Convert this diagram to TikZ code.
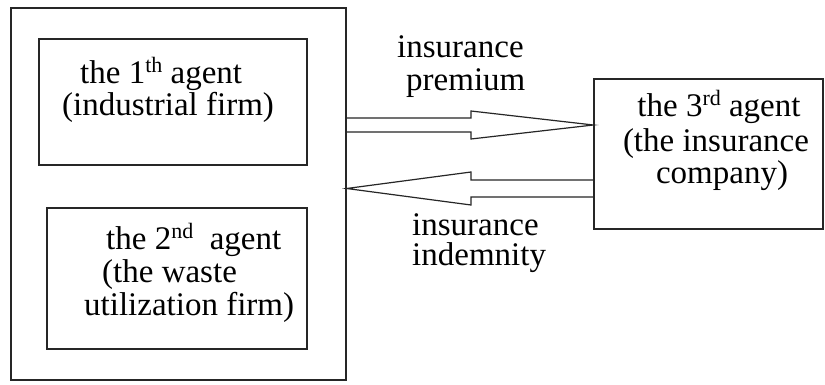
\documentclass[tikz,border=0pt]{standalone}
\usepackage{fontspec}
\setmainfont{Liberation Serif}
\usetikzlibrary{calc}
\newcommand\supx[1]{\raisebox{11pt}{\fontsize{22}{22}\selectfont #1}}
\begin{document}
\begin{tikzpicture}[x=1pt,y=-1pt,
  box/.style={draw=black!85, line width=1.3pt, inner sep=0pt},
  txt/.style={font=\fontsize{33}{36}\selectfont, inner sep=0pt, anchor=base west, text=black},
  ctxt/.style={txt, anchor=base},
  flow/.style={draw=black!85, line width=1.2pt, line join=miter}]
\useasboundingbox[fill=white] (0,0) rectangle (825,385);
% boxes
\node[box, minimum width=335pt, minimum height=372pt] (outer) at (178.5,194) {};
\node[box, minimum width=268pt, minimum height=126pt] (b1) at (173,102) {};
\node[box, minimum width=260pt, minimum height=141pt] (b2) at (177,278.5) {};
\node[box, minimum width=229pt, minimum height=150pt] (b3) at (708.5,154) {};
% texts in boxes
\node[txt] (t1a) at (80,84) {the 1\supx{th} agent};
\node[txt] (t1b) at (62,116) {(industrial firm)};
\node[txt] (t2a) at (106,249) {the 2\supx{nd}\ \ agent};
\node[txt] (t2b) at (102,282) {(the waste};
\node[txt] (t2c) at (84,315) {utilization firm)};
\node[ctxt] (t3a) at (719,117) {the 3\supx{rd} agent};
\node[ctxt] (t3b) at (716,152) {(the insurance};
\node[ctxt] (t3c) at (722,183) {company)};
% arrow labels
\node[txt] (l1a) at (397,58) {insurance};
\node[txt] (l1b) at (406,91) {premium};
\node[txt] (l2a) at (412,235) {insurance};
\node[txt] (l2b) at (412,265) {indemnity};
% connectors (hollow arrows)
\coordinate (p0) at (outer.east |- 0,118);
\coordinate (p1) at (outer.east |- 0,132);
\coordinate (ptip) at (b3.west |- 0,125);
\draw[flow] (p0) -- (471,118) -- (471,111) -- (ptip) -- (471,139) -- (471,132) -- (p1);
\coordinate (q0) at (b3.west |- 0,180);
\coordinate (q1) at (b3.west |- 0,197);
\coordinate (qtip) at (outer.east |- 0,188.5);
\draw[flow] (q0) -- (471,180) -- (471,172) -- (qtip) -- (471,205) -- (471,197) -- (q1);
\end{tikzpicture}
\end{document}
